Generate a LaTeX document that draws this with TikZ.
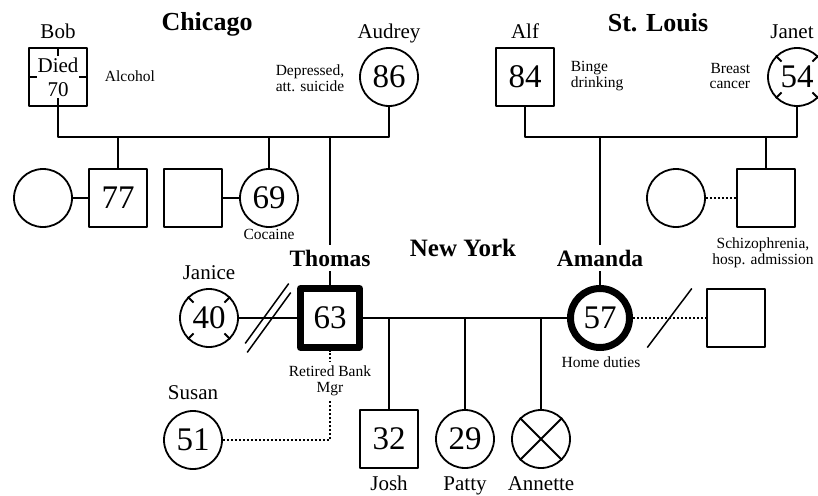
\documentclass[tikz,border=0pt]{standalone}
\usepackage{fontspec}
\setmainfont{Liberation Serif}
\usetikzlibrary{calc}

\newcommand\numfont{\fontsize{33}{33}\selectfont}
\newcommand\namefont{\fontsize{21}{22}\selectfont}
\newcommand\notefont{\fontsize{15.5}{16}\selectfont}
\newcommand\cityfont{\fontsize{26}{28}\selectfont\bfseries}
\newcommand\whofont{\fontsize{23.5}{25}\selectfont\bfseries}
\newcommand\diedfont{\fontsize{21}{24}\selectfont}

\begin{document}
\begin{tikzpicture}[
  x = 1pt,
  y = -1pt,
  line width = 1.8pt,
  line join = round,
  male/.style    = {draw, rectangle, minimum size=58pt, inner sep=0pt, font=\numfont},
  female/.style  = {draw, circle, minimum size=58pt, inner sep=0pt, font=\numfont},
  proband/.style = {line width=7pt, minimum size=59pt},
  pname/.style   = {font=\namefont, anchor=base, inner sep=0pt},
  city/.style    = {font=\cityfont, anchor=base, inner sep=0pt},
  who/.style     = {font=\whofont, anchor=base, fill=white, inner xsep=2pt, inner ysep=5pt},
  note/.style    = {font=\notefont, align=center, inner sep=1pt},
  partner/.style = {dash pattern=on 2pt off 2pt}
]
  \useasboundingbox (0,0) rectangle (818,495);

  % 시카고
  \node[male, font=\diedfont, align=center] (bob) at (58,77) {Died\\70};
  \node[female] (audrey) at (389,77) {86};
  \node[pname] (bobname)    at (58,39)  {Bob};
  \node[pname] (audreyname) at (389,39) {Audrey};
  \node[city]  (chicago)    at (207,31) {Chicago};
  \node[note, anchor=west] (alcohol)   at (103,76) {Alcohol};
  \node[note]              (depressed) at (310,78) {Depressed,\\att. suicide};

  \node[female] (wife77) at (43,198)  {};
  \node[male]   (son77)  at (118,198) {77};
  \node[male]   (hus69)  at (193,198) {};
  \node[female] (dau69)  at (269,198) {69};
  \node[note]   (cocaine) at (269,234) {Cocaine};

  % 세인트루이스
  \node[male]   (alf)   at (525,77) {84};
  \node[female] (janet) at (797,77) {54};
  \node[pname] (alfname)   at (525,39) {Alf};
  \node[pname] (janetname) at (792,39) {Janet};
  \node[city]  (stlouis)   at (658,32) {St. Louis};
  \node[note, align=left, anchor=west]  (binge)  at (569,76) {Binge\\drinking};
  \node[note, align=right, anchor=east] (breast) at (752,76) {Breast\\cancer};

  \node[female] (wifeS) at (676,198) {};
  \node[male]   (sonS)  at (766,198) {};
  \node[note]   (schizo) at (763,253) {Schizophrenia,\\hosp. admission};

  % 뉴욕
  \node[city, font=\fontsize{25}{27}\selectfont\bfseries] (newyork) at (463,256) {New York};
  \node[male, proband]   (thomas) at (330,318) {63};
  \node[female, proband] (amanda) at (600,318) {57};
  \node[female] (janice) at (209,318) {40};
  \node[male]   (amex)   at (736,318) {};
  \node[female] (susan)  at (193,440) {51};
  \node[pname] (janicename) at (209,279) {Janice};
  \node[pname] (susanname)  at (193,399) {Susan};
  \node[note]  (homeduties) at (601,362) {Home duties};

  \node[male]   (josh)    at (389,439) {32};
  \node[female] (patty)   at (465,439) {29};
  \node[female] (annette) at (541,439) {};
  \node[pname] (joshname)    at (389,490) {Josh};
  \node[pname] (pattyname)   at (465,490) {Patty};
  \node[pname] (annettename) at (541,490) {Annette};

  % 선
  \coordinate (chi) at (0,137);
  \coordinate (stl) at (0,137);
  \draw (bob.south) -- (bob.south |- chi) -| (audrey.south);
  \draw (son77.north) -- (son77.north |- chi);
  \draw (dau69.north) -- (dau69.north |- chi);
  \draw (thomas.north) -- (thomas.north |- chi);
  \draw (alf.south) -- (alf.south |- stl) -| (janet.south);
  \draw (amanda.north) -- (amanda.north |- stl);
  \draw (sonS.north) -- (sonS.north |- stl);

  \draw (wife77.east) -- (son77.west);
  \draw (hus69.east) -- (dau69.west);
  \draw[partner] (wifeS.east) -- (sonS.west);

  \draw (bob.north) -- ++(0,9) (bob.west) -- ++(9,0)
        (bob.east) -- ++(-9,0) (bob.south) -- ++(0,-9);
  \foreach \a in {45,135,225,315} {
    \draw (janice.\a) -- ($(janice.\a)!8pt!(janice.center)$);
    \draw (janet.\a) -- ($(janet.\a)!8pt!(janet.center)$);
  }
  \draw (annette.45) -- (annette.225) (annette.135) -- (annette.315);

  \draw (janice.east) -- (thomas.west);
  \coordinate (split) at ($(janice.east)!0.5!(thomas.west)$);
  \draw[line width=1.5pt] ([shift={(-1pt,4.5pt)}]split) +(234:37pt) -- +(54:37pt);
  \draw[line width=1.5pt] ([shift={(1pt,-4.5pt)}]split) +(234:37pt) -- +(54:37pt);

  \draw[partner] (amanda.east) -- (amex.west);
  \draw[line width=1.5pt] ($(amanda.east)!0.5!(amex.west)$) +(233:37pt) -- +(53:37pt);

  \draw (thomas.east) -- (amanda.west);
  \draw (josh.north) -- (josh.north |- thomas.east);
  \draw (patty.north) -- (patty.north |- thomas.east);
  \draw (annette.north) -- (annette.north |- thomas.east);

  \draw[partner] (susan.east) -| (thomas.south);

  \node[who] (thomasname) at (330,266) {Thomas};
  \node[who] (amandaname) at (600,266) {Amanda};
  \node[note, fill=white, inner ysep=4pt] (banker) at (330,381) {Retired Bank\\Mgr};
\end{tikzpicture}
\end{document}
